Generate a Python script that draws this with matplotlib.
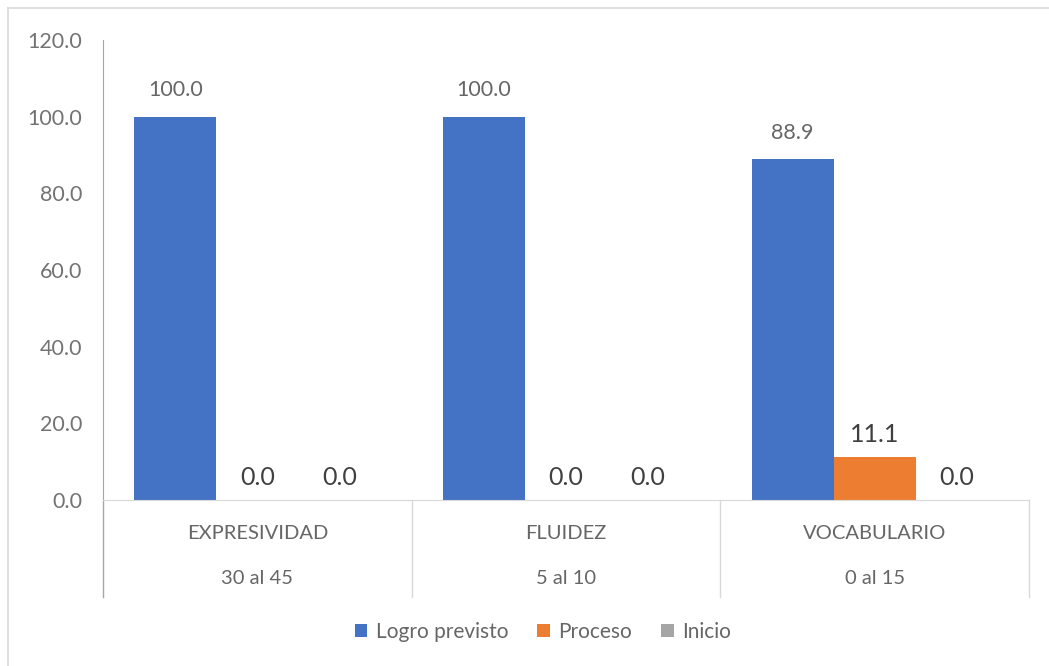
import matplotlib.pyplot as plt
from matplotlib.lines import Line2D
import numpy as np

plt.rcParams['font.family'] = ['Lato', 'DejaVu Sans']

categorias = ["EXPRESIVIDAD", "FLUIDEZ", "VOCABULARIO"]
rangos = ["30 al 45", "5 al 10", "0 al 15"]
logro_previsto = [100.0, 100.0, 88.9]
proceso = [0.0, 0.0, 11.1]
inicio = [0.0, 0.0, 0.0]

series = [("Logro previsto", logro_previsto, "#4472C4"),
          ("Proceso", proceso, "#ED7D31"),
          ("Inicio", inicio, "#A5A5A5")]

fig = plt.figure(figsize=(10.49, 6.66), dpi=100)
ax = fig.add_axes([0.0982, 0.2492, 0.8828, 0.6908])

x = np.arange(len(categorias))
ancho = 0.266
for i, (nombre, valores, color) in enumerate(series):
    pos = x + (i - 1) * ancho
    ax.bar(pos, valores, ancho, color=color, label=nombre)
    for px, v in zip(pos, valores):
        if i == 0:
            ax.annotate(f"{v:.1f}", (px, v), xytext=(0, 12), textcoords="offset points",
                        ha="center", va="bottom", fontsize=15.5, color="#666666")
        else:
            ax.annotate(f"{v:.1f}", (px, v), xytext=(0, 8), textcoords="offset points",
                        ha="center", va="bottom", fontsize=18, color="#404040")

ax.set_xlim(-0.5, len(categorias) - 0.5)
ax.set_ylim(0, 120)
ax.set_yticks(np.arange(0, 121, 20))
ax.set_yticklabels([f"{t:.1f}" for t in np.arange(0, 121, 20)])
ax.tick_params(axis="y", length=0, pad=15, labelsize=15.5, labelcolor="#737373")
ax.set_xticks([])

for s in ["top", "right"]:
    ax.spines[s].set_visible(False)
ax.spines["left"].set_color("#a6a6a6")
ax.spines["bottom"].set_color("#d9d9d9")

# eje de categorías en dos niveles
tr = ax.get_xaxis_transform()
for xi, cat, rango in zip(x, categorias, rangos):
    ax.text(xi, -0.072, cat, transform=tr, ha="center", va="center", fontsize=14.5, color="#666666")
    ax.text(xi, -0.17, rango, transform=tr, ha="center", va="center", fontsize=14.5, color="#666666")
for sep in np.arange(-0.5, len(categorias), 1.0):
    c = "#a6a6a6" if sep == -0.5 else "#d9d9d9"
    ax.plot([sep, sep], [0, -0.211], transform=tr, color=c, lw=1, clip_on=False)

ax.legend(loc="center", bbox_to_anchor=(0.475, -0.287), ncol=3, frameon=False,
          fontsize=15, labelcolor="#666666", handlelength=0.6, handleheight=0.6,
          handletextpad=0.4, columnspacing=1.4)

# borde del gráfico
fig.add_artist(Line2D([8 / 1049, 1], [1 - 8 / 666] * 2, color="#d9d9d9", lw=1.2))
fig.add_artist(Line2D([8 / 1049] * 2, [0, 1 - 8 / 666], color="#d9d9d9", lw=1.2))

fig.savefig("out.png", dpi=100)
